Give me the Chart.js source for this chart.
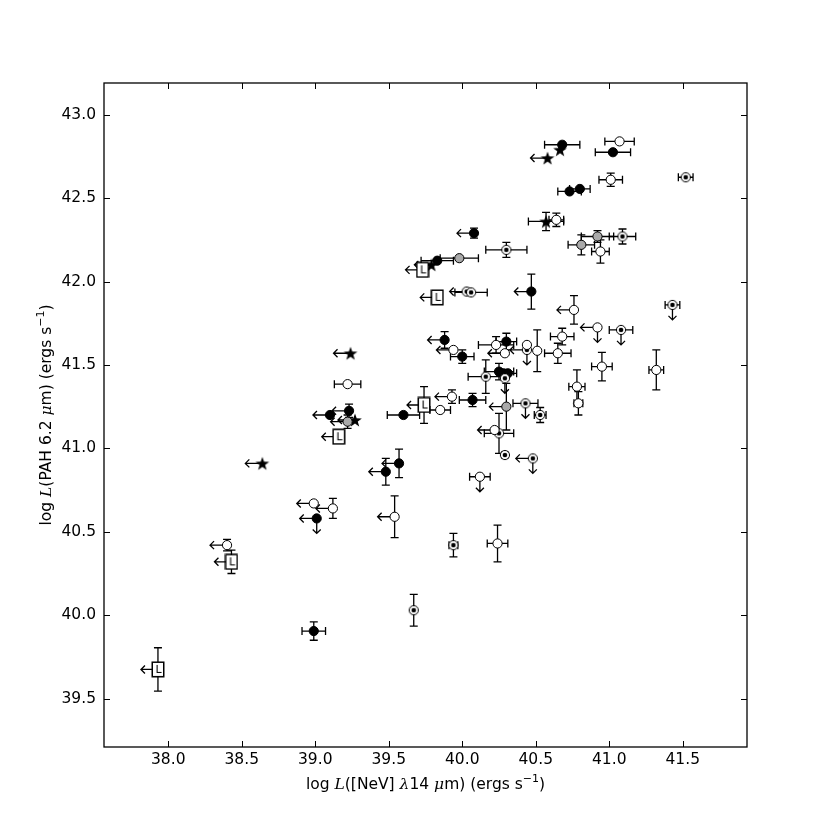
<!DOCTYPE html>
<html>
<head>
<meta charset="utf-8">
<script src="https://cdn.jsdelivr.net/npm/chart.js@4/dist/chart.umd.min.js"></script>
<style>
  html, body { margin: 0; padding: 0; background: #fff; }
</style>
</head>
<body>
<canvas id="c" width="830" height="830"></canvas>
<script>
// rows: [log L(NeV), log L(PAH 6.2), x error, y error, limit]
// limit: 'x' = upper limit on NeV (left arrow), 'y' = upper limit on PAH (down arrow)
const filled = [
  [40.68, 42.82, 0.12, 0, ''], [41.025, 42.775, 0.12, 0, ''],
  [40.73, 42.54, 0.08, 0, ''], [40.80, 42.555, 0.07, 0, ''],
  [40.08, 42.29, 0, 0.03, 'x'], [39.83, 42.125, 0.11, 0, ''],
  [40.47, 41.94, 0, 0.105, 'x'], [39.88, 41.65, 0, 0.05, 'x'],
  [40.00, 41.55, 0.08, 0.04, ''], [40.30, 41.64, 0.07, 0.05, ''],
  [40.25, 41.46, 0.1, 0.05, ''], [40.28, 41.45, 0, 0, ''],
  [40.31, 41.45, 0.06, 0, ''], [40.07, 41.29, 0.09, 0.04, ''],
  [39.60, 41.20, 0.11, 0, ''], [39.10, 41.20, 0, 0, 'x'],
  [39.23, 41.225, 0, 0.04, 'x'], [39.57, 40.91, 0, 0.085, 'x'],
  [39.48, 40.86, 0, 0.08, 'x'], [39.01, 40.58, 0, 0, 'xy'],
  [38.99, 39.905, 0.08, 0.055, '']
];
const open = [
  [41.07, 42.84, 0.1, 0, ''], [41.01, 42.61, 0.08, 0.04, ''],
  [40.64, 42.37, 0.05, 0.04, ''], [40.94, 42.18, 0.06, 0.07, ''],
  [40.76, 41.83, 0, 0.085, 'x'], [40.92, 41.725, 0, 0, 'xy'],
  [40.68, 41.67, 0.08, 0.05, ''], [39.94, 41.59, 0, 0, 'x'],
  [40.23, 41.62, 0.12, 0.05, ''], [40.29, 41.57, 0, 0, 'x'],
  [40.44, 41.62, 0, 0, ''], [40.51, 41.585, 0, 0.125, ''],
  [40.65, 41.57, 0.09, 0.06, ''], [40.95, 41.49, 0.07, 0.085, ''],
  [41.32, 41.47, 0.05, 0.12, ''], [40.78, 41.37, 0.055, 0.1, ''],
  [40.79, 41.27, 0.03, 0.07, ''], [39.22, 41.385, 0.09, 0, ''],
  [39.93, 41.31, 0, 0.04, 'x'], [39.85, 41.23, 0.07, 0, ''],
  [40.22, 41.11, 0, 0, 'x'], [40.12, 40.83, 0.07, 0, 'y'],
  [38.99, 40.67, 0, 0, 'x'], [39.12, 40.64, 0, 0.06, 'x'],
  [39.54, 40.59, 0, 0.125, 'x'], [40.24, 40.43, 0.07, 0.11, ''],
  [38.40, 40.42, 0, 0.035, 'x']
];
const gray = [
  [40.92, 42.27, 0.11, 0.035, ''], [40.81, 42.22, 0.09, 0.06, ''],
  [39.98, 42.14, 0.13, 0, ''], [40.30, 41.25, 0, 0.14, 'x'],
  [39.22, 41.16, 0, 0.04, 'x']
];
const dotted = [
  [41.52, 42.625, 0.05, 0, ''], [40.30, 42.19, 0.14, 0.045, ''],
  [41.09, 42.27, 0.09, 0.045, ''], [40.03, 41.94, 0, 0, 'x'],
  [40.06, 41.935, 0.11, 0, ''], [41.43, 41.86, 0.05, 0, 'y'],
  [41.08, 41.71, 0.08, 0, 'y'], [40.44, 41.59, 0, 0, 'xy'],
  [40.16, 41.43, 0.12, 0.1, ''], [40.29, 41.42, 0, 0, 'y'],
  [40.43, 41.27, 0.085, 0, 'y'], [40.53, 41.20, 0.04, 0.045, ''],
  [40.25, 41.09, 0.1, 0.12, ''], [40.29, 40.96, 0.02, 0, ''],
  [40.48, 40.94, 0, 0, 'xy'], [39.94, 40.42, 0.03, 0.07, ''],
  [39.67, 40.03, 0, 0.095, '']
];
const stars = [
  [40.665, 42.79, 0, 0, ''], [40.58, 42.74, 0, 0, 'x'],
  [40.57, 42.36, 0.12, 0.055, ''], [39.79, 42.10, 0, 0, 'x'],
  [39.24, 41.57, 0, 0, 'x'], [39.27, 41.17, 0, 0, 'x'],
  [38.64, 40.91, 0, 0, 'x']
];
const lBoxes = [
  [39.73, 42.07, 0, 0, 'x'], [39.83, 41.905, 0, 0, 'x'],
  [39.74, 41.26, 0, 0.11, 'x'], [39.16, 41.07, 0, 0, 'x'],
  [38.43, 40.32, 0, 0.07, 'x'], [37.93, 39.675, 0, 0.13, 'x']
];

const xTicks = [38.0, 38.5, 39.0, 39.5, 40.0, 40.5, 41.0, 41.5];
const yTicks = [39.5, 40.0, 40.5, 41.0, 41.5, 42.0, 42.5, 43.0];
const xRange = [37.563, 41.937];
const yRange = [39.21, 43.19];

const FONT = '"DejaVu Sans", sans-serif';
const FS = 15.5;

function toPoints(rows) {
  return rows.map(r => ({ x: r[0], y: r[1], xe: r[2], ye: r[3], lim: r[4] }));
}

// custom marker images
function starMarker() {
  const c = document.createElement('canvas');
  c.width = c.height = 16;
  const g = c.getContext('2d');
  g.beginPath();
  for (let i = 0; i < 10; i++) {
    const r = i % 2 ? 2.9 : 7.2;
    const a = -Math.PI / 2 + i * Math.PI / 5;
    g.lineTo(8 + r * Math.cos(a), 8.6 + r * Math.sin(a));
  }
  g.closePath();
  g.fillStyle = '#000';
  g.fill();
  return c;
}
function lMarker() {
  const c = document.createElement('canvas');
  c.width = 14; c.height = 17;
  const g = c.getContext('2d');
  g.fillStyle = '#fff';
  g.fillRect(1, 1, 12, 15);
  g.strokeStyle = '#000';
  g.lineWidth = 1.5;
  g.strokeRect(1.25, 1.25, 11.5, 14.5);
  g.fillStyle = '#000';
  g.font = '11px ' + FONT;
  g.textAlign = 'center';
  g.textBaseline = 'middle';
  g.fillText('L', 7.5, 9);
  return c;
}
function dotMarker() {
  const c = document.createElement('canvas');
  c.width = c.height = 12;
  const g = c.getContext('2d');
  g.beginPath();
  g.arc(6, 6, 4.6, 0, Math.PI * 2);
  g.fillStyle = '#fff';
  g.fill();
  g.strokeStyle = '#000';
  g.lineWidth = 1;
  g.stroke();
  g.beginPath();
  g.arc(6, 6, 2.3, 0, Math.PI * 2);
  g.fillStyle = '#000';
  g.fill();
  return c;
}

// error bars and upper-limit arrows, drawn under the markers
const errorBars = {
  id: 'errorBars',
  beforeDatasetsDraw(chart) {
    const ctx = chart.ctx, xs = chart.scales.x, ys = chart.scales.y;
    ctx.save();
    ctx.strokeStyle = '#000';
    ctx.lineWidth = 1.3;
    chart.data.datasets.forEach(ds => {
      ds.data.forEach(p => {
        const px = xs.getPixelForValue(p.x), py = ys.getPixelForValue(p.y);
        ctx.beginPath();
        if (p.xe) {
          const a = xs.getPixelForValue(p.x - p.xe), b = xs.getPixelForValue(p.x + p.xe);
          ctx.moveTo(a, py); ctx.lineTo(b, py);
          ctx.moveTo(a, py - 4); ctx.lineTo(a, py + 4);
          ctx.moveTo(b, py - 4); ctx.lineTo(b, py + 4);
        }
        if (p.ye) {
          const a = ys.getPixelForValue(p.y - p.ye), b = ys.getPixelForValue(p.y + p.ye);
          ctx.moveTo(px, a); ctx.lineTo(px, b);
          ctx.moveTo(px - 4, a); ctx.lineTo(px + 4, a);
          ctx.moveTo(px - 4, b); ctx.lineTo(px + 4, b);
        }
        if (p.lim.includes('x')) {
          const t = px - 17;
          ctx.moveTo(px, py); ctx.lineTo(t, py);
          ctx.moveTo(t + 4, py - 4); ctx.lineTo(t, py); ctx.lineTo(t + 4, py + 4);
        }
        if (p.lim.includes('y')) {
          const t = py + 15;
          ctx.moveTo(px, py); ctx.lineTo(px, t);
          ctx.moveTo(px - 4, t - 4); ctx.lineTo(px, t); ctx.lineTo(px + 4, t - 4);
        }
        ctx.stroke();
      });
    });
    ctx.restore();
  }
};

// matplotlib-like frame with inward ticks on all four sides
const frame = {
  id: 'frame',
  afterDatasetsDraw(chart) {
    const ctx = chart.ctx, a = chart.chartArea, xs = chart.scales.x, ys = chart.scales.y;
    ctx.save();
    ctx.strokeStyle = '#000';
    ctx.lineWidth = 1;
    ctx.beginPath();
    xTicks.forEach(v => {
      const p = Math.round(xs.getPixelForValue(v)) + 0.5;
      ctx.moveTo(p, a.bottom); ctx.lineTo(p, a.bottom - 6);
      ctx.moveTo(p, a.top); ctx.lineTo(p, a.top + 6);
    });
    yTicks.forEach(v => {
      const p = Math.round(ys.getPixelForValue(v)) + 0.5;
      ctx.moveTo(a.left, p); ctx.lineTo(a.left + 6, p);
      ctx.moveTo(a.right, p); ctx.lineTo(a.right - 6, p);
    });
    ctx.stroke();
    ctx.lineWidth = 1.3;
    ctx.strokeRect(a.left, a.top, a.right - a.left, a.bottom - a.top);
    ctx.restore();
  }
};

// axis titles with italic math symbols
function richText(ctx, parts, cx, cy) {
  let w = 0;
  parts.forEach(p => { ctx.font = p.f; w += ctx.measureText(p.t).width; });
  let x = cx - w / 2;
  parts.forEach(p => {
    ctx.font = p.f;
    ctx.fillText(p.t, x, cy - (p.up || 0));
    x += ctx.measureText(p.t).width;
  });
}
const N = FS + 'px ' + FONT, I = 'italic ' + FS + 'px "DejaVu Serif", serif', S = '11px ' + FONT;
const xTitle = [
  { t: 'log ', f: N }, { t: 'L', f: I }, { t: '([NeV] ', f: N }, { t: 'λ', f: I },
  { t: '14 ', f: N }, { t: 'μ', f: I }, { t: 'm) (ergs s', f: N },
  { t: '−1', f: S, up: 7 }, { t: ')', f: N }
];
const yTitle = [
  { t: 'log ', f: N }, { t: 'L', f: I }, { t: '(PAH 6.2 ', f: N }, { t: 'μ', f: I },
  { t: 'm) (ergs s', f: N }, { t: '−1', f: S, up: 7 }, { t: ')', f: N }
];
const titles = {
  id: 'titles',
  afterDraw(chart) {
    const ctx = chart.ctx, a = chart.chartArea;
    ctx.save();
    ctx.fillStyle = '#000';
    ctx.textBaseline = 'alphabetic';
    richText(ctx, xTitle, (a.left + a.right) / 2, 789);
    ctx.translate(51, (a.top + a.bottom) / 2);
    ctx.rotate(-Math.PI / 2);
    richText(ctx, yTitle, 0, 0);
    ctx.restore();
  }
};

const base = { pointRadius: 4.6, pointHoverRadius: 4.6, borderColor: '#000', borderWidth: 1 };

new Chart(document.getElementById('c'), {
  type: 'scatter',
  data: {
    datasets: [
      Object.assign({ data: toPoints(gray), backgroundColor: '#a9a9a9', pointStyle: 'circle' }, base),
      Object.assign({ data: toPoints(open), backgroundColor: '#fff', pointStyle: 'circle' }, base),
      Object.assign({ data: toPoints(dotted), pointStyle: dotMarker() }, base),
      Object.assign({ data: toPoints(filled), backgroundColor: '#000', pointStyle: 'circle' }, base),
      Object.assign({ data: toPoints(lBoxes), pointStyle: lMarker() }, base),
      Object.assign({ data: toPoints(stars), pointStyle: starMarker() }, base)
    ]
  },
  options: {
    responsive: false,
    animation: false,
    devicePixelRatio: 1,
    layout: { padding: { left: 0, right: 83, top: 83, bottom: 0 } },
    plugins: { legend: { display: false }, tooltip: { enabled: false } },
    scales: {
      x: {
        type: 'linear', min: xRange[0], max: xRange[1],
        afterBuildTicks: s => { s.ticks = xTicks.map(v => ({ value: v })); },
        afterFit: s => { s.height = 83; },
        grid: { display: false, drawTicks: false },
        border: { display: false },
        ticks: { color: '#000', font: { family: FONT, size: FS }, padding: 4,
                 maxRotation: 0, autoSkip: false, callback: v => v.toFixed(1) }
      },
      y: {
        type: 'linear', min: yRange[0], max: yRange[1],
        afterBuildTicks: s => { s.ticks = yTicks.map(v => ({ value: v })); },
        afterFit: s => { s.width = 104; },
        grid: { display: false, drawTicks: false },
        border: { display: false },
        ticks: { color: '#000', font: { family: FONT, size: FS }, padding: 8,
                 autoSkip: false, callback: v => v.toFixed(1) }
      }
    }
  },
  plugins: [errorBars, frame, titles]
});
</script>
</body>
</html>
